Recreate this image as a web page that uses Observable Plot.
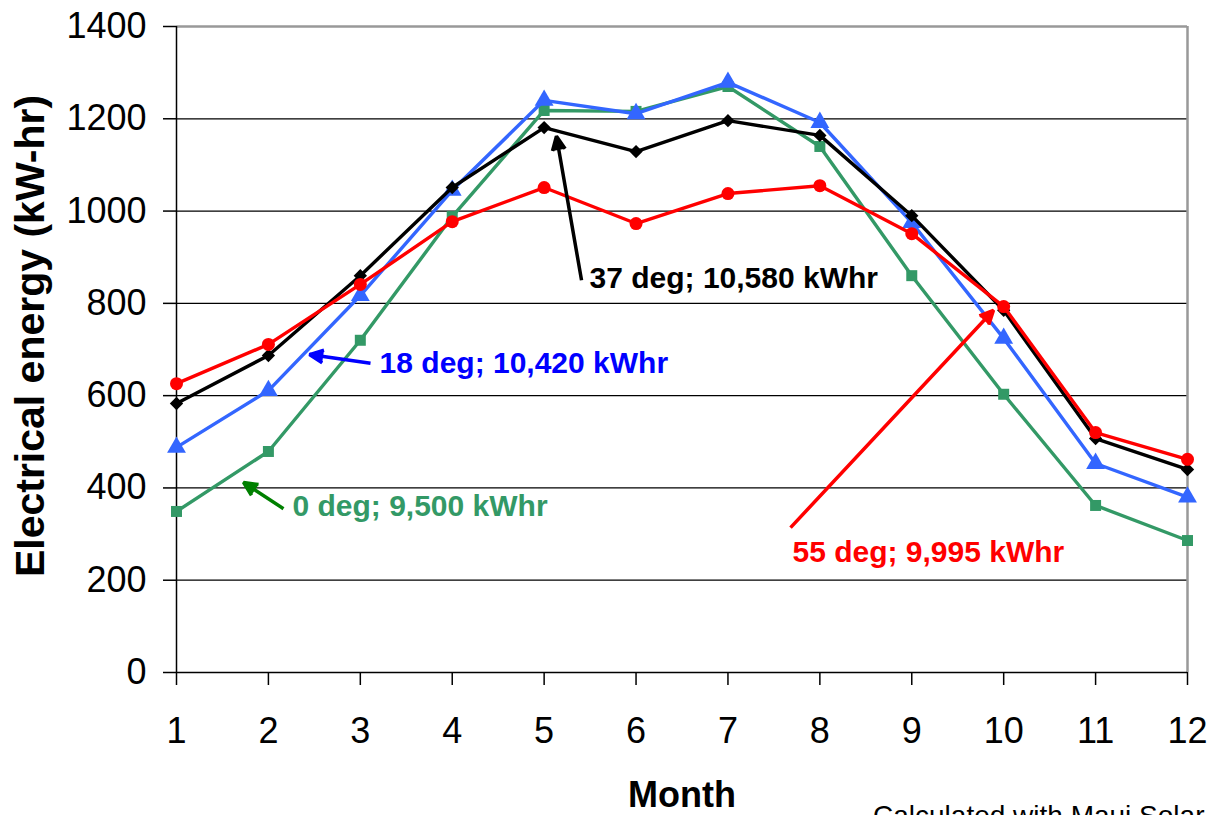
<!DOCTYPE html>
<html>
<head>
<meta charset="utf-8">
<script src="https://cdn.jsdelivr.net/npm/d3@7"></script>
<script src="https://cdn.jsdelivr.net/npm/@observablehq/plot@0.6"></script>
<style>
  html, body { margin: 0; padding: 0; background: white; overflow: hidden; }
  #wrap { position: relative; width: 1213px; height: 815px; font-family: 'Liberation Sans', Arial, sans-serif; }
  #ytitle { position: absolute; left: 30px; top: 336px; transform: translate(-50%, -50%) rotate(-90deg); white-space: nowrap; font-weight: bold; font-size: 41px; line-height: 1; color: #000; }
  #xtitle { position: absolute; left: 682px; top: 777px; transform: translateX(-50%); white-space: nowrap; font-weight: bold; font-size: 36px; line-height: 1; color: #000; }
  #caption { position: absolute; left: 873px; top: 802px; white-space: nowrap; font-size: 28px; line-height: 1; color: #000; }
</style>
</head>
<body>
<div id="wrap">
  <div id="chart"></div>
  <div id="ytitle">Electrical energy (kW-hr)</div>
  <div id="xtitle">Month</div>
  <div id="caption">Calculated with Maui Solar</div>
</div>
<script>
// ---- Data ----
const months = [1, 2, 3, 4, 5, 6, 7, 8, 9, 10, 11, 12];
const yTicks = [0, 200, 400, 600, 800, 1000, 1200, 1400];
const gridValues = [200, 400, 600, 800, 1000, 1200];

const seriesNames = ["0 deg", "18 deg", "37 deg", "55 deg"];
const deg0  = [349, 479, 720, 988, 1218, 1216, 1270, 1140, 860, 603, 362, 286];
const deg18 = [488, 611, 817, 1045, 1240, 1211, 1279, 1192, 975, 724, 453, 380];
const deg37 = [583, 687, 860, 1051, 1181, 1129, 1196, 1164, 990, 785, 507, 440];
const deg55 = [626, 711, 841, 977, 1051, 973, 1038, 1055, 951, 793, 520, 462];
const seriesValues = [deg0, deg18, deg37, deg55];
const seriesColors = ["#339966", "#3366FF", "#000000", "#FF0000"];
const seriesSymbols = ["square", "triangle", "diamond2", "circle"];
const seriesRadius = [6.2, 7, 6, 6.5];

// annotations (data coordinates: month, kWh)
const annLabels = ["37 deg; 10,580 kWhr", "18 deg; 10,420 kWhr", "0 deg; 9,500 kWhr", "55 deg; 9,995 kWhr"];
const annTextMonth = [5.494, 3.21, 2.262, 7.702];
const annTextValue = [854, 670, 360, 260];
const annTextColors = ["#000000", "#0000FF", "#339966", "#FF0000"];
const arrowFromMonth = [5.407, 3.111, 2.164, 7.681];
const arrowFromValue = [850, 670, 355, 314];
const arrowToMonth = [5.134, 2.447, 1.729, 9.889];
const arrowToValue = [1162, 689, 412, 785];
const arrowColors = ["#000000", "#0000FF", "#008000", "#FF0000"];

// ---- Build tables ----
const series = seriesNames.map((name, i) => ({
  name, color: seriesColors[i], symbol: seriesSymbols[i], r: seriesRadius[i],
  rows: months.map((m, j) => ({month: m, value: seriesValues[i][j]}))
}));

const anns = annLabels.map((label, i) => ({
  label, tx: annTextMonth[i], ty: annTextValue[i], tcolor: annTextColors[i],
  x1: arrowFromMonth[i], y1: arrowFromValue[i], x2: arrowToMonth[i], y2: arrowToValue[i], acolor: arrowColors[i]
}));

const marks = [
  Plot.ruleY(gridValues, {stroke: "#000", strokeWidth: 1.2}),
  Plot.ruleY([1400], {stroke: "#999", strokeWidth: 2.5}),
  Plot.ruleX([12], {stroke: "#999", strokeWidth: 2.5}),
  Plot.axisY({ticks: yTicks, tickSize: 13, tickPadding: 17, fontSize: 36, label: null, tickFormat: d => String(d), stroke: "#000", strokeWidth: 1.5}),
  Plot.axisX({ticks: months, tickSize: 13, tickPadding: 32, fontSize: 36, label: null, tickFormat: d => String(d), stroke: "#000", strokeWidth: 1.5}),
  Plot.ruleX([1], {stroke: "#000", strokeWidth: 1.5}),
  Plot.ruleY([0], {stroke: "#000", strokeWidth: 1.5})
];

for (const s of series) {
  marks.push(Plot.line(s.rows, {x: "month", y: "value", stroke: s.color, strokeWidth: 3.4}));
  marks.push(Plot.dot(s.rows, {x: "month", y: "value", fill: s.color, stroke: "none", symbol: s.symbol, r: s.r}));
}

for (const a of anns) {
  marks.push(Plot.arrow([a], {x1: "x1", y1: "y1", x2: "x2", y2: "y2", stroke: a.acolor, fill: a.acolor, strokeWidth: 3.5, headLength: 6.5, headAngle: 50, strokeLinecap: "butt", strokeLinejoin: "miter"}));
  marks.push(Plot.text([a], {x: "tx", y: "ty", text: "label", fill: a.tcolor, textAnchor: "start", lineAnchor: "middle", fontSize: 30, fontWeight: "bold"}));
}

const chart = Plot.plot({
  width: 1213,
  height: 815,
  marginLeft: 176,
  marginRight: 26,
  marginTop: 26,
  marginBottom: 143,
  style: {fontFamily: "'Liberation Sans', Arial, sans-serif", background: "white", color: "#000"},
  x: {domain: [1, 12]},
  y: {domain: [0, 1400]},
  marks
});
document.getElementById("chart").appendChild(chart);
</script>
</body>
</html>
